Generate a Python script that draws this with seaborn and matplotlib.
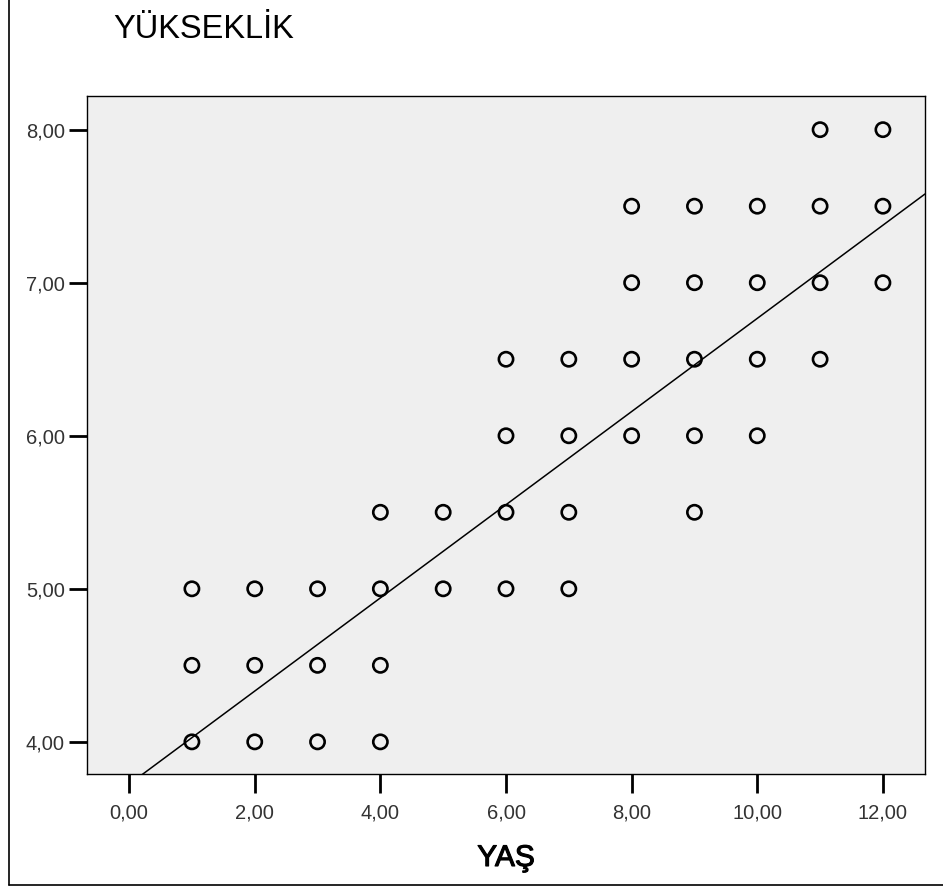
import numpy as np
import pandas as pd
import matplotlib
matplotlib.use("Agg")
import matplotlib.pyplot as plt
import matplotlib.patheffects as pe
from matplotlib.lines import Line2D
import seaborn as sns

# Observations: age (YAŞ) and height (YÜKSEKLİK)
yas = [1, 1, 1,
       2, 2, 2,
       3, 3, 3,
       4, 4, 4, 4,
       5, 5,
       6, 6, 6, 6,
       7, 7, 7, 7,
       8, 8, 8, 8,
       9, 9, 9, 9, 9,
       10, 10, 10, 10,
       11, 11, 11, 11,
       12, 12, 12]
yukseklik = [4.0, 4.5, 5.0,
             4.0, 4.5, 5.0,
             4.0, 4.5, 5.0,
             4.0, 4.5, 5.0, 5.5,
             5.0, 5.5,
             5.0, 5.5, 6.0, 6.5,
             5.0, 5.5, 6.0, 6.5,
             6.0, 6.5, 7.0, 7.5,
             5.5, 6.0, 6.5, 7.0, 7.5,
             6.0, 6.5, 7.0, 7.5,
             6.5, 7.0, 7.5, 8.0,
             7.0, 7.5, 8.0]

# Linear fit line (intercept, slope)
fit_intercept = 3.723
fit_slope = 0.3044

x_ticks = [0, 2, 4, 6, 8, 10, 12]
y_ticks = [4, 5, 6, 7, 8]
x_lim = (-0.67, 12.67)
y_lim = (3.79, 8.22)

df = pd.DataFrame({"YAŞ": yas, "YÜKSEKLİK": yukseklik})

sns.set_theme(style="white")
plt.rcParams["font.family"] = ["Liberation Sans", "DejaVu Sans"]

W, H = 943, 888
fig = plt.figure(figsize=(W / 100, H / 100), dpi=100)
fig.patch.set_facecolor("white")
ax = fig.add_axes([87 / W, 1 - 774 / H, (925 - 87) / W, (774 - 96) / H])
ax.set_facecolor("#efefef")

sns.scatterplot(data=df, x="YAŞ", y="YÜKSEKLİK", ax=ax, marker="o",
                s=105, facecolor="none", edgecolor="black", linewidth=1.9,
                zorder=3)

fit_x = np.array(x_lim)
fit_df = pd.DataFrame({"x": fit_x, "y": fit_intercept + fit_slope * fit_x})
sns.lineplot(data=fit_df, x="x", y="y", ax=ax, color="black", linewidth=1.1,
             zorder=2)

ax.set_xlim(*x_lim)
ax.set_ylim(*y_lim)
ax.set_xticks(x_ticks)
ax.set_yticks(y_ticks)
ax.set_xticklabels([f"{v:.2f}".replace(".", ",") for v in x_ticks])
ax.set_yticklabels([f"{v:.2f}".replace(".", ",") for v in y_ticks])
ax.tick_params(axis="x", direction="out", length=14, width=2, pad=7,
               labelsize=14.5, colors="black", labelcolor="#333333",
               bottom=True)
ax.tick_params(axis="y", direction="out", length=13, width=2, pad=3,
               labelsize=14.5, colors="black", labelcolor="#333333",
               left=True)
ax.set_xlabel("")
ax.set_ylabel("")
for sp in ax.spines.values():
    sp.set_visible(True)
    sp.set_color("black")
    sp.set_linewidth(1.0)

fig.text(113 / W, 1 - 29 / H, "YÜKSEKLİK", fontsize=23.5, color="black",
         ha="left", va="center")
fig.text(506 / W, 1 - 858 / H, "YAŞ", fontsize=21.5, color="black",
         ha="center", va="center",
         path_effects=[pe.withStroke(linewidth=0.8, foreground="black")])

# Outer chart frame
fig.add_artist(Line2D([8.5 / W, 8.5 / W], [1 - 885 / H, 1.0],
                      transform=fig.transFigure, color="black", linewidth=1.2))
fig.add_artist(Line2D([8.5 / W, 1.0], [1 - 885 / H, 1 - 885 / H],
                      transform=fig.transFigure, color="black", linewidth=1.2))

fig.savefig("out.png", dpi=100, facecolor="white")
